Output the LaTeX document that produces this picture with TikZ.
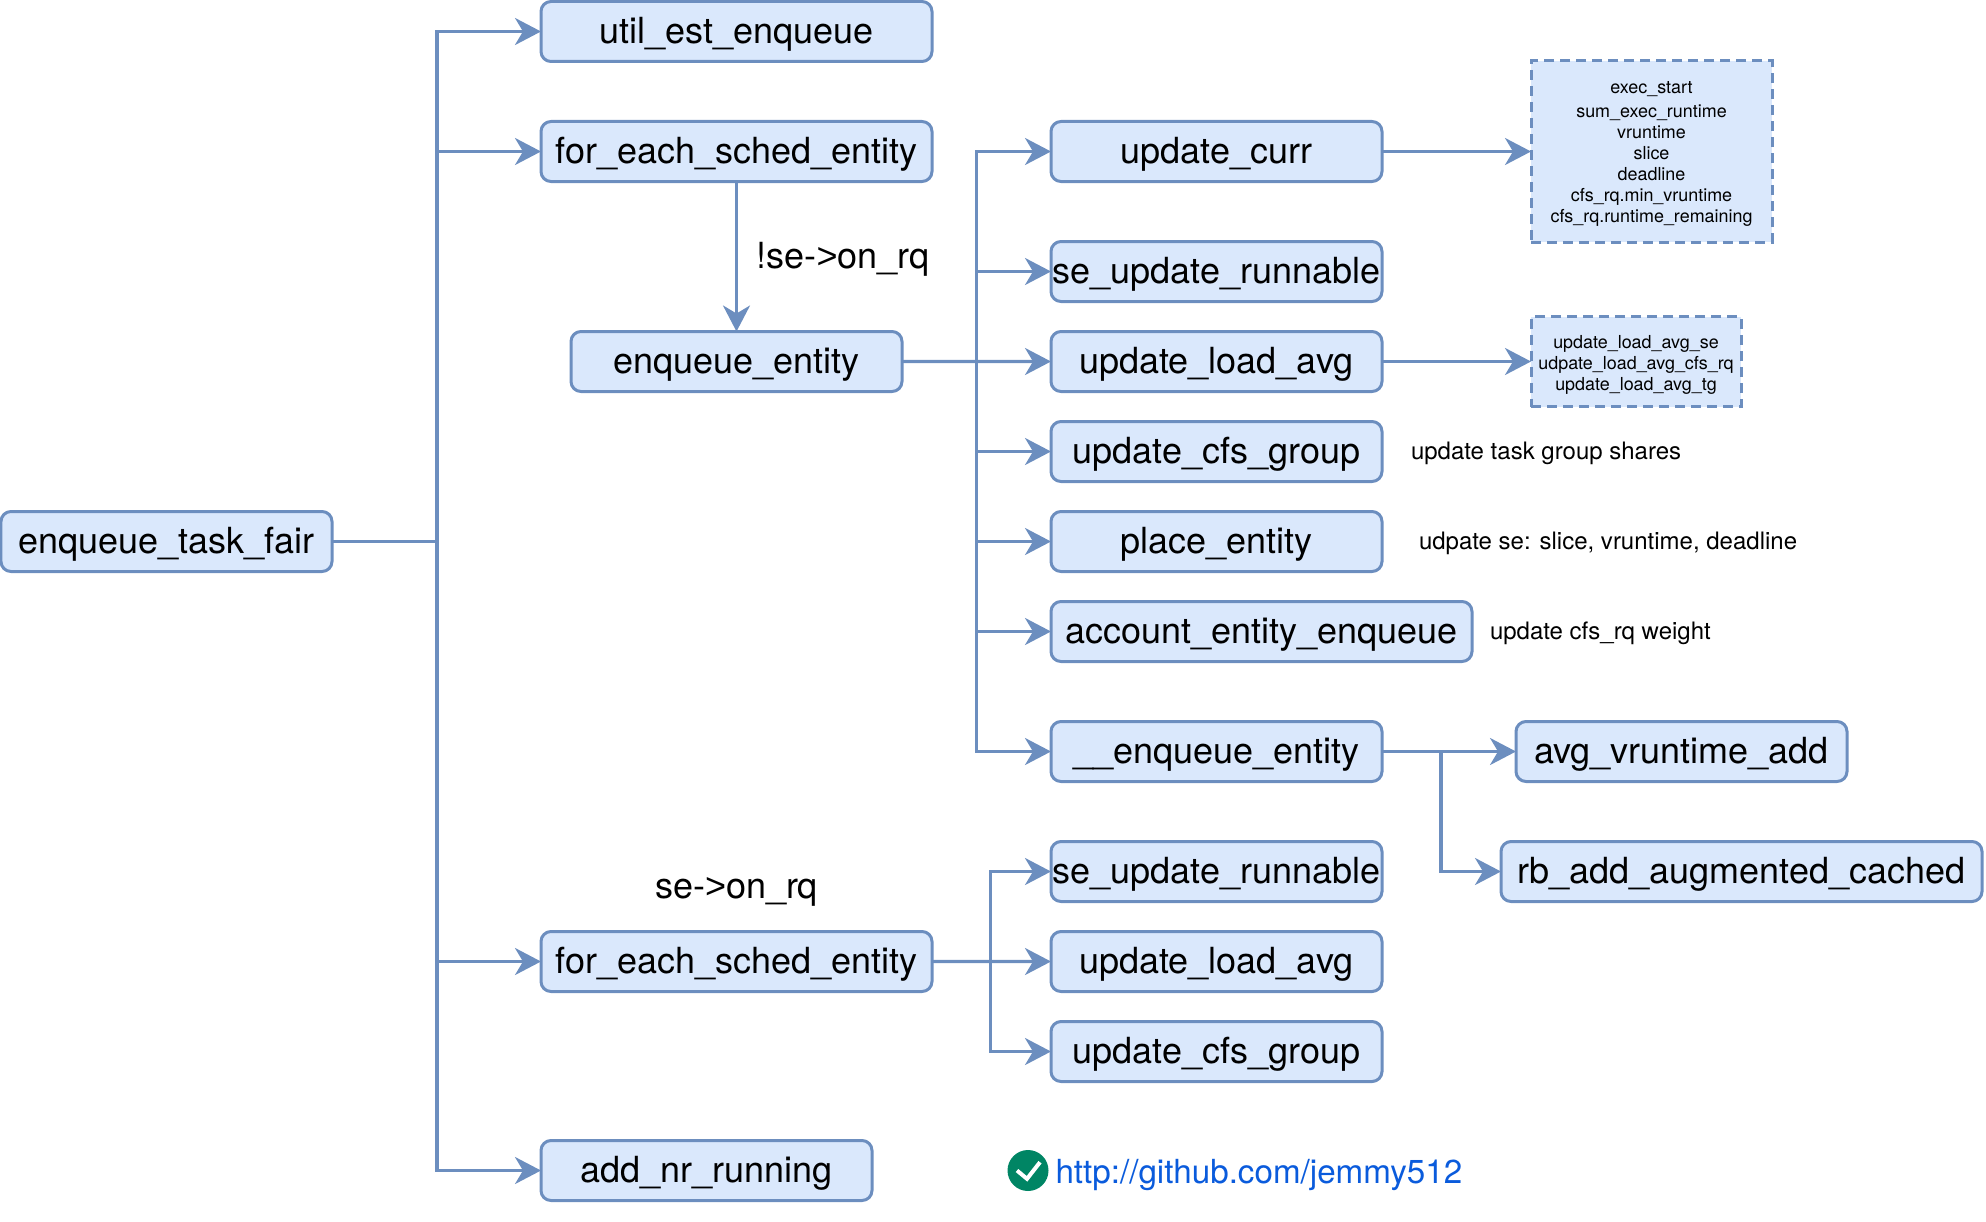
\documentclass[tikz,border=0pt]{standalone}
\usepackage{fontspec}
\usepackage{xcolor}
\usepackage{tikz}
\usetikzlibrary{arrows.meta,positioning,calc}
\setmainfont{TeX Gyre Heros}
\newfontfamily\gtfont{Liberation Sans}
\definecolor{schedblue}{HTML}{6C8EBF}
\definecolor{schedfill}{HTML}{DAE8FC}
\definecolor{schedlink}{HTML}{0A5BDC}
\definecolor{schedok}{HTML}{008564}
\tikzset{
  fnbox/.style={rounded corners=1mm, draw=schedblue, line width=0.3mm, fill=schedfill, align=center, inner sep=0pt, outer sep=0pt, minimum height=0.6cm, minimum width=3.31cm, text height=0.32cm, text depth=0.085cm, font=\fontsize{10.24pt}{12pt}\selectfont},
  widebox/.style={fnbox, minimum width=3.91cm},
  statebox/.style={draw=schedblue, line width=0.3mm, dash pattern=on 1mm off 0.6mm, fill=schedfill, align=center, inner sep=0pt, outer sep=0pt, font=\fontsize{5.1pt}{5.97pt}\selectfont},
  note/.style={inner sep=0pt, outer sep=0pt, text height=0.225cm, text depth=0.06cm, font=\fontsize{6.83pt}{8pt}\selectfont},
  cond/.style={inner sep=0pt, outer sep=0pt, text height=0.32cm, text depth=0.085cm, font=\fontsize{10.24pt}{12pt}\selectfont},
  link/.style={inner sep=0pt, outer sep=0pt, text=schedlink, text height=0.33cm, text depth=0.08cm, font=\fontsize{9.44pt}{11pt}\selectfont},
  wire/.style={draw=schedblue, line width=0.32mm},
  arrow/.style={-{Stealth[length=2.6mm, width=2.7mm, inset=0.8mm]}, wire}
}
\begin{document}
\begin{tikzpicture}[node distance=0.3cm and 1.19cm]
  \useasboundingbox (0,0) rectangle (19.86,-12.21);

  \node[fnbox] (taskfair) at (1.665,-5.415) {enqueue\_task\_fair};
  \node[widebox, above right=3.3cm and 2.09cm of taskfair] (foreach) {for\_each\_sched\_entity};
  \node[widebox, above=0.6cm of foreach] (utilest) {util\_est\_enqueue};
  \node[fnbox, below=1.5cm of foreach] (entity) {enqueue\_entity};
  \node[widebox, below right=3.6cm and 2.09cm of taskfair] (foreachon) {for\_each\_sched\_entity};
  \node[fnbox, below=1.49cm of foreachon.south west, anchor=north west] (addnr) {add\_nr\_running};

  \node[fnbox, right=of foreach] (curr) {update\_curr};
  \node[fnbox, below=0.6cm of curr] (runnable) {se\_update\_runnable};
  \node[fnbox, below=of runnable] (loadavg) {update\_load\_avg};
  \node[fnbox, below=of loadavg] (cfsgroup) {update\_cfs\_group};
  \node[fnbox, below=of cfsgroup] (place) {place\_entity};
  \node[fnbox, minimum width=4.21cm, below=of place.south west, anchor=north west] (account) {account\_entity\_enqueue};
  \node[fnbox, below=0.6cm of account.south west, anchor=north west] (rbentity) {\_\_enqueue\_entity};
  \node[fnbox, below=0.6cm of rbentity] (runnableon) {se\_update\_runnable};
  \node[fnbox, below=of runnableon] (loadavgon) {update\_load\_avg};
  \node[fnbox, below=of loadavgon] (cfsgroupon) {update\_cfs\_group};

  \node[statebox, minimum width=2.41cm, minimum height=1.81cm, right=1.49cm of curr] (currstate) {\rule{0pt}{4.8pt}exec\_start\\[0.8pt]sum\_exec\_runtime\\vruntime\\slice\\deadline\\cfs\_rq.min\_vruntime\\cfs\_rq.runtime\_remaining};
  \node[statebox, minimum width=2.1cm, minimum height=0.9cm, right=1.49cm of loadavg] (loadstate) {\rule{0pt}{5.9pt}update\_load\_avg\_se\\udpate\_load\_avg\_cfs\_rq\\update\_load\_avg\_tg};
  \node[note, right=0.29cm of cfsgroup] (cfsnote) {update task group shares};
  \node[note, right=0.37cm of place] (placenote) {udpate se: slice, vruntime, deadline};
  \node[note, right=0.18cm of account] (accountnote) {update cfs\_rq weight};

  \node[fnbox, right=1.34cm of rbentity] (avgadd) {avg\_vruntime\_add};
  \node[fnbox, minimum width=4.81cm, right=of runnableon] (rbadd) {rb\_add\_augmented\_cached};

  \node[cond, above=0.245cm of foreachon] (oncond) {se-{\gtfont >}on\_rq};
  \node[circle, fill=schedok, inner sep=0pt, outer sep=0pt, minimum size=0.41cm, text height=0pt, text depth=0pt, right=1.355cm of addnr] (okicon) {};
  \node[link, right=0.07cm of okicon] (url) {http://github.com/jemmy512};
  \draw[white, line width=0.4mm] ($(okicon)+(-0.11,0)$) -- ($(okicon)+(-0.01,-0.083)$) -- ($(okicon)+(0.12,0.083)$);

  \coordinate[right=1.05cm of taskfair] (taskbus);
  \coordinate[right=0.745cm of entity] (entitybus);
  \coordinate[right=0.585cm of foreachon] (foreachbus);
  \coordinate[right=0.59cm of rbentity] (rbbus);

  \draw[wire] (taskfair) -- (taskbus);
  \draw[arrow] (taskbus) |- (utilest);
  \draw[arrow] (taskbus) |- (foreach);
  \draw[arrow] (taskbus) |- (foreachon);
  \draw[arrow] (taskbus) |- (addnr);
  \draw[arrow] (foreach) -- node[cond, right=0.2cm] (offcond) {!se-{\gtfont >}on\_rq} (entity);

  \draw[arrow] (entity) -- (loadavg);
  \draw[arrow] (entitybus) |- (curr);
  \draw[arrow] (entitybus) |- (runnable);
  \draw[arrow] (entitybus) |- (cfsgroup);
  \draw[arrow] (entitybus) |- (place);
  \draw[arrow] (entitybus) |- (account);
  \draw[arrow] (entitybus) |- (rbentity);

  \draw[arrow] (foreachon) -- (loadavgon);
  \draw[arrow] (foreachbus) |- (runnableon);
  \draw[arrow] (foreachbus) |- (cfsgroupon);

  \draw[arrow] (curr) -- (currstate);
  \draw[arrow] (loadavg) -- (loadstate);
  \draw[arrow] (rbentity) -- (avgadd);
  \draw[arrow] (rbbus) |- (rbadd);
\end{tikzpicture}
\end{document}
